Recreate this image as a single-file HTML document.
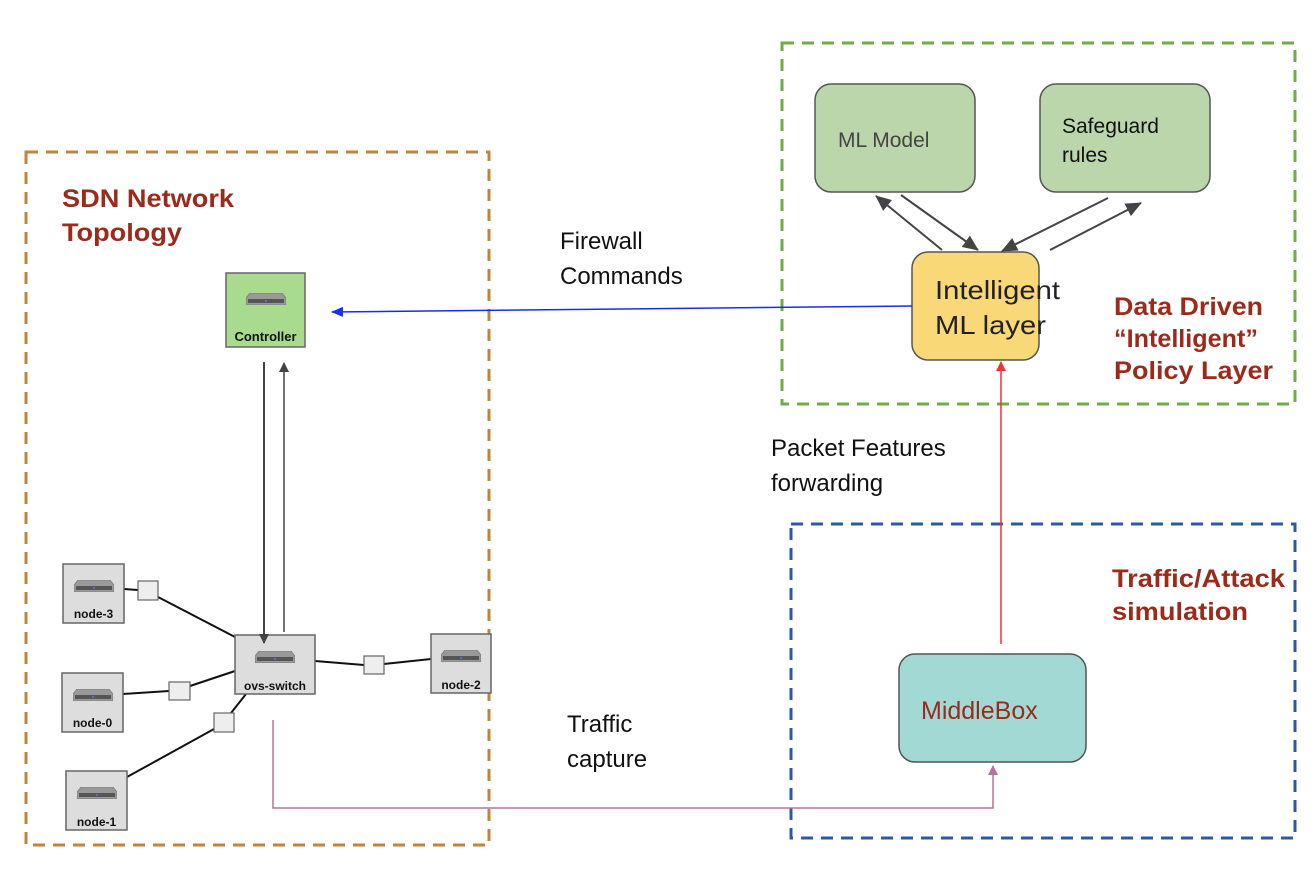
<!DOCTYPE html><html><head><style>body{margin:0;background:#fff}svg text{font-family:"Liberation Sans",sans-serif}</style></head><body>
<svg width="1316" height="864" viewBox="0 0 1316 864" xmlns="http://www.w3.org/2000/svg">
<defs>
<marker id="ad" markerWidth="10" markerHeight="12" refX="9" refY="5" orient="auto" markerUnits="userSpaceOnUse"><path d="M0,0 L10,5 L0,10 z" fill="#444"/></marker>
<marker id="ab" markerWidth="12" markerHeight="10" refX="11" refY="5" orient="auto" markerUnits="userSpaceOnUse"><path d="M0,0 L12,5 L0,10 z" fill="#1a2bf0"/></marker>
<marker id="ar" markerWidth="10" markerHeight="10" refX="9" refY="5" orient="auto" markerUnits="userSpaceOnUse"><path d="M0,0 L10,5 L0,10 z" fill="#e33"/></marker>
<marker id="ap" markerWidth="10" markerHeight="10" refX="9" refY="5" orient="auto" markerUnits="userSpaceOnUse"><path d="M0,0 L10,5 L0,10 z" fill="#b5739b"/></marker>
<marker id="al" markerWidth="16" markerHeight="14" refX="15" refY="7" orient="auto" markerUnits="userSpaceOnUse"><path d="M0,0 L16,7 L0,14 z" fill="#444"/></marker>
<symbol id="sw" viewBox="0 0 40 12"><path d="M4,0 H36 L40,5 V12 H0 V5 Z" fill="#999" stroke="#666" stroke-width="0.6"/><rect x="2" y="6" width="36" height="4" fill="#555"/><circle cx="20" cy="8" r="1" fill="#57f"/></symbol>
</defs>
<rect x="26" y="152" width="463" height="693" fill="none" stroke="#c0843a" stroke-width="3" stroke-dasharray="12,8"/>
<rect x="782" y="43" width="513" height="361" fill="none" stroke="#70ad47" stroke-width="3" stroke-dasharray="12,8"/>
<rect x="791" y="524" width="504" height="314" fill="none" stroke="#2c5aa0" stroke-width="3" stroke-dasharray="12,8"/>
<g font-size="25" font-weight="bold" fill="#9b2a1a" lengthAdjust="spacingAndGlyphs">
<text x="62" y="207" textLength="172" lengthAdjust="spacingAndGlyphs">SDN Network</text>
<text x="62" y="241" textLength="120" lengthAdjust="spacingAndGlyphs">Topology</text>
<text x="1114" y="315" textLength="149" lengthAdjust="spacingAndGlyphs">Data Driven</text>
<text x="1114" y="347" textLength="144" lengthAdjust="spacingAndGlyphs">“Intelligent”</text>
<text x="1114" y="379" textLength="159" lengthAdjust="spacingAndGlyphs">Policy Layer</text>
<text x="1112" y="587" textLength="173" lengthAdjust="spacingAndGlyphs">Traffic/Attack</text>
<text x="1112" y="620" textLength="136" lengthAdjust="spacingAndGlyphs">simulation</text>
</g>
<text x="560" y="249" font-size="24" fill="#111">Firewall</text>
<text x="560" y="284" font-size="24" fill="#111">Commands</text>
<text x="771" y="456" font-size="24" fill="#111">Packet Features</text>
<text x="771" y="491" font-size="24" fill="#111">forwarding</text>
<text x="567" y="732" font-size="24" fill="#111">Traffic</text>
<text x="567" y="767" font-size="24" fill="#111">capture</text>
<rect x="815" y="84" width="160" height="108" rx="16" fill="#bcd6ac" stroke="#555" stroke-width="1.5"/>
<text x="838" y="147" font-size="21" fill="#444">ML Model</text>
<rect x="1040" y="84" width="170" height="108" rx="16" fill="#bcd6ac" stroke="#555" stroke-width="1.5"/>
<text x="1062" y="133" font-size="21" fill="#111">Safeguard</text>
<text x="1062" y="162" font-size="21" fill="#111">rules</text>
<rect x="912" y="252" width="127" height="108" rx="16" fill="#f9d878" stroke="#555" stroke-width="1.5"/>
<text x="935" y="299" font-size="26" fill="#222" textLength="125" lengthAdjust="spacingAndGlyphs">Intelligent</text>
<text x="935" y="334" font-size="26" fill="#222" textLength="111" lengthAdjust="spacingAndGlyphs">ML layer</text>
<rect x="899" y="654" width="187" height="108" rx="16" fill="#a2d9d5" stroke="#555" stroke-width="1.5"/>
<text x="921" y="719" font-size="25" fill="#9b2a1a">MiddleBox</text>
<g stroke="#444" stroke-width="2">
<line x1="942" y1="250" x2="876" y2="196" marker-end="url(#al)"/>
<line x1="901" y1="195" x2="978" y2="250" marker-end="url(#al)"/>
<line x1="1108" y1="198" x2="1002" y2="251" marker-end="url(#al)"/>
<line x1="1050" y1="250" x2="1141" y2="203" marker-end="url(#al)"/>
</g>
<line x1="912" y1="306" x2="332" y2="312" stroke="#1a2bf0" stroke-width="1.5" marker-end="url(#ab)"/>
<line x1="1001" y1="644" x2="1001" y2="362" stroke="#e33" stroke-width="1.5" marker-end="url(#ar)"/>
<polyline points="273,720 273,808 993,808 993,766" fill="none" stroke="#b5739b" stroke-width="1.5" marker-end="url(#ap)"/>
<g stroke="#111" stroke-width="2">
<line x1="124" y1="589" x2="138" y2="590"/><line x1="158" y1="597" x2="235" y2="637"/>
<line x1="123" y1="694" x2="169" y2="691"/><line x1="190" y1="686" x2="235" y2="671"/>
<line x1="127" y1="777" x2="214" y2="729"/><line x1="231" y1="713" x2="246" y2="694"/>
<line x1="315" y1="661" x2="364" y2="665"/><line x1="384" y1="664" x2="431" y2="659"/>
</g>
<rect x="226" y="273" width="79" height="74" fill="#a9db8f" stroke="#666" stroke-width="1.5"/>
<use href="#sw" x="246" y="293" width="40" height="12"/>
<text x="265.5" y="341" font-size="13" font-weight="bold" text-anchor="middle" fill="#111">Controller</text>
<g fill="#ddd" stroke="#666" stroke-width="1.5">
<rect x="63" y="564" width="61" height="59"/><rect x="62" y="673" width="61" height="59"/>
<rect x="66" y="771" width="61" height="59"/><rect x="235" y="635" width="80" height="59"/>
<rect x="431" y="634" width="60" height="59"/>
</g>
<g fill="#eee" stroke="#666" stroke-width="1.2">
<rect x="138" y="581" width="20" height="19"/><rect x="169" y="682" width="21" height="18"/>
<rect x="214" y="713" width="20" height="19"/><rect x="364" y="656" width="20" height="18"/>
</g>
<use href="#sw" x="74" y="580" width="40" height="12"/>
<use href="#sw" x="73" y="689" width="40" height="12"/>
<use href="#sw" x="77" y="787" width="40" height="12"/>
<use href="#sw" x="255" y="651" width="40" height="12"/>
<use href="#sw" x="441" y="650" width="40" height="12"/>
<g font-size="12" font-weight="bold" fill="#111" text-anchor="middle">
<text x="93.5" y="618">node-3</text><text x="92.5" y="727">node-0</text><text x="96.5" y="826">node-1</text>
<text x="275" y="690">ovs-switch</text><text x="461" y="689">node-2</text>
</g>
<line x1="264" y1="362" x2="264" y2="643" stroke="#444" stroke-width="2" marker-end="url(#ad)"/>
<line x1="284" y1="632" x2="284" y2="363" stroke="#444" stroke-width="1.5" marker-end="url(#ad)"/>
</svg>
</body></html>
